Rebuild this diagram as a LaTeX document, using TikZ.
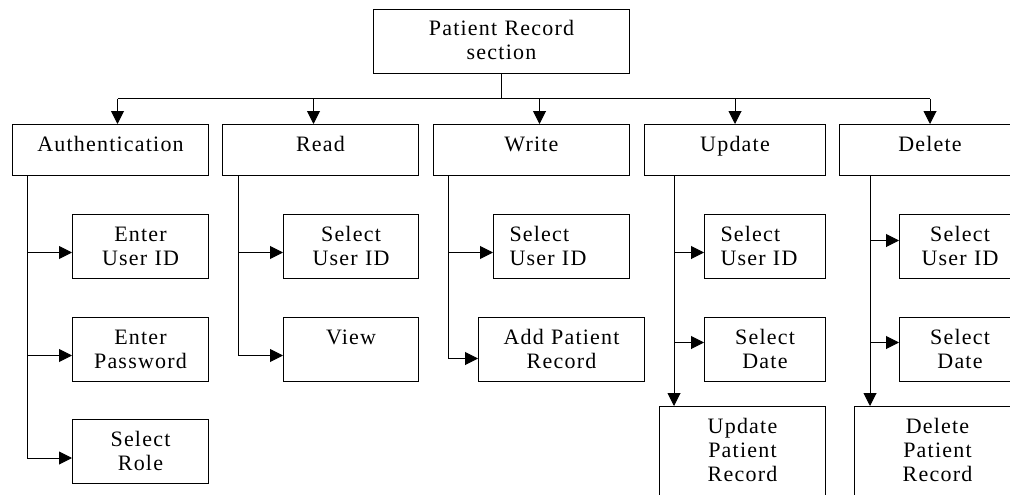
\documentclass[tikz,border=0pt]{standalone}
\usepackage{fontspec}
\setmainfont{Liberation Serif}[LetterSpace=5.5]
\usetikzlibrary{arrows.meta}
\begin{document}
\begin{tikzpicture}[x=1pt,y=-1pt,
  line width=1pt,
  bx/.style 2 args={draw, rectangle, anchor=north west, inner xsep=0pt, inner ysep=0pt,
     text width=#1pt, align=center, text height=27pt, text depth=#2pt,
     font=\fontsize{22}{24}\selectfont},
  lbx/.style={inner xsep=16pt, align=left},
  arr/.style={-{Triangle[length=13pt,width=13pt]}}]
\useasboundingbox (0,0) rectangle (1010,495);
\clip (0,0) rectangle (1010,495);

\node[bx={256}{38}, text height=26pt] (top) at (373,9) {Patient Record\\section};
\node[bx={196}{24}] (auth) at (12,124) {Authentication};
\node[bx={196}{24}] (read) at (222,124) {Read};
\node[bx={196}{24}] (write) at (433,124) {Write};
\node[bx={181}{24}] (upd) at (644,124) {Update};
\node[bx={181}{24}] (del) at (839,124) {Delete};

\node[bx={136}{37}] (a1) at (72,214) {Enter\\User ID};
\node[bx={136}{37}] (a2) at (72,317) {Enter\\Password};
\node[bx={136}{37}] (a3) at (72,419) {Select\\Role};
\node[bx={135}{37}] (r1) at (283,214) {Select\\User ID};
\node[bx={135}{37}] (r2) at (283,317) {View};
\node[bx={104}{37}, lbx] (w1) at (493,214) {Select\\User ID};
\node[bx={166}{37}] (w2) at (478,317) {Add Patient\\Record};
\node[bx={89}{37}, lbx] (u1) at (704,214) {Select\\User ID};
\node[bx={121}{37}] (u2) at (704,317) {Select\\Date};
\node[bx={166}{73}] (u3) at (659,406) {Update\\Patient\\Record};
\node[bx={121}{37}] (d1) at (899,214) {Select\\User ID};
\node[bx={121}{37}] (d2) at (899,317) {Select\\Date};
\node[bx={166}{73}] (d3) at (854,406) {Delete\\Patient\\Record};

% bus from top box
\coordinate (bus) at (0,99);
\coordinate (ka) at ([xshift=7pt]auth.north);
\coordinate (kr) at ([xshift=-7pt]read.north);
\coordinate (kw) at ([xshift=8pt]write.north);
\coordinate (ku) at (upd.north);
\coordinate (kd) at (del.north);
\draw (top.south) -- (top.south |- bus);
\draw (ka |- bus) -- (kd |- bus);
\foreach \k in {ka,kr,kw,ku,kd} \draw[arr] (\k |- bus) -- (\k);

% trunks
\coordinate (ta) at ([xshift=15pt]auth.south west);
\coordinate (tr) at ([xshift=16pt]read.south west);
\coordinate (tw) at ([xshift=15pt]write.south west);
\coordinate (tu) at ([xshift=30pt]upd.south west);
\coordinate (td) at ([xshift=31pt]del.south west);

\coordinate (pa1) at ([yshift=-6pt]a1.west);
\coordinate (pa2) at ([yshift=-6pt]a2.west);
\coordinate (pa3) at ([yshift=-6.5pt]a3.west);
\coordinate (pr1) at ([yshift=-6pt]r1.west);
\coordinate (pr2) at ([yshift=-6pt]r2.west);
\coordinate (pw1) at ([yshift=-6pt]w1.west);
\coordinate (pw2) at ([yshift=-9pt]w2.west);
\coordinate (pu1) at ([yshift=-6pt]u1.west);
\coordinate (pu2) at ([yshift=7pt]u2.west);
\coordinate (pd1) at ([yshift=6pt]d1.west);
\coordinate (pd2) at ([yshift=7pt]d2.west);

\draw (ta) -- (ta |- pa3);
\draw (tr) -- (tr |- pr2);
\draw (tw) -- (tw |- pw2);
\draw[arr] (tu) -- (tu |- u3.north);
\draw[arr] (td) -- (td |- d3.north);

\foreach \t/\p in {ta/pa1,ta/pa2,ta/pa3,tr/pr1,tr/pr2,tw/pw1,tw/pw2,tu/pu1,tu/pu2,td/pd1,td/pd2}
  \draw[arr] (\t |- \p) -- (\p);
\end{tikzpicture}
\end{document}
